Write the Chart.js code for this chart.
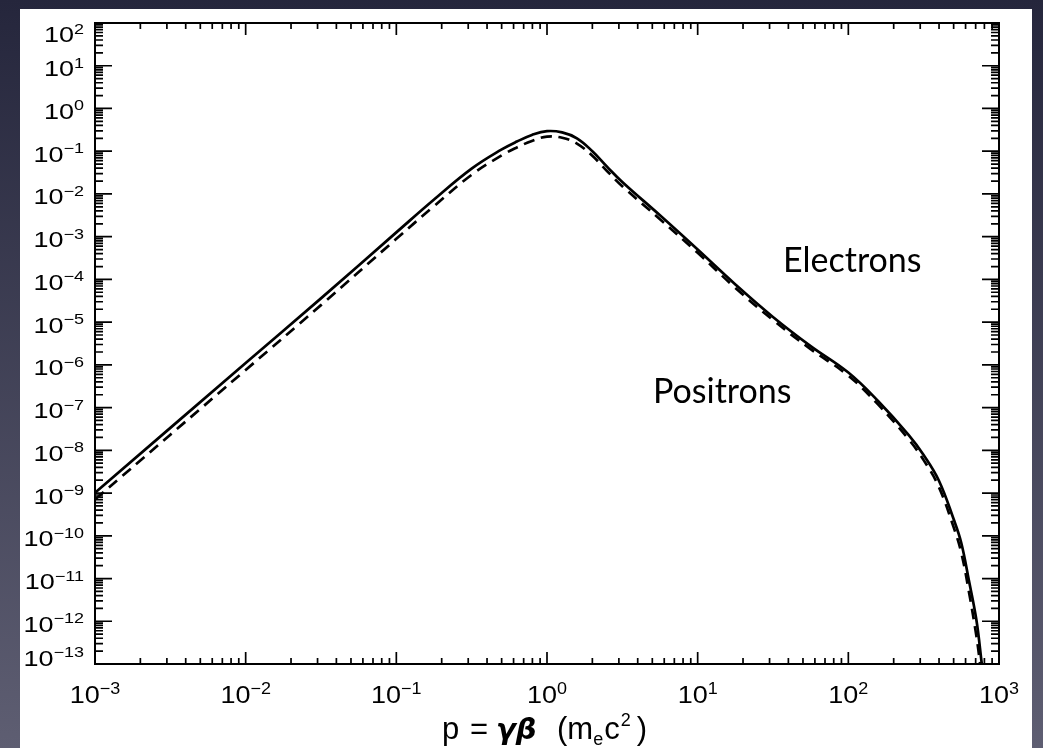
<!DOCTYPE html>
<html>
<head>
<meta charset="utf-8">
<script src="https://cdn.jsdelivr.net/npm/chart.js@4/dist/chart.umd.min.js"></script>
<style>
  html, body { margin: 0; padding: 0; background: #2a2b40; }
  canvas { display: block; }
</style>
</head>
<body>
<canvas id="spectrum" width="1043" height="748"></canvas>
<script>
// momentum p = gamma*beta (m_e c^2)
const momentumE = [0.001, 0.01, 0.0316, 0.1, 0.178, 0.316, 0.501, 0.631, 0.794, 1.0, 1.26, 1.58, 2.0, 2.51, 3.16,
  5.62, 10, 17.8, 31.6, 56.2, 100, 158, 251, 316, 398, 501, 562, 631, 708, 769];
const electrons = [1.02e-9, 1.10e-6, 3.6e-5, 1.26e-3, 7.4e-3, 3.9e-2, 0.110, 0.168, 0.24, 0.295, 0.275, 0.20, 0.10, 0.043, 0.019,
  3.16e-3, 5.0e-4, 7.6e-5, 1.32e-5, 2.75e-6, 6.6e-7, 1.41e-7, 2.3e-8, 7.8e-9, 2.0e-9, 2.4e-10, 6.8e-11, 9.1e-12, 1.07e-12, 1.0e-13];

const momentumP = [0.001, 0.01, 0.0316, 0.1, 0.178, 0.316, 0.501, 0.631, 0.794, 1.0, 1.26, 1.58, 2.0, 2.51, 3.16,
  5.62, 10, 17.8, 31.6, 56.2, 100, 158, 251, 316, 398, 501, 562, 631, 708, 750];
const positrons = [7.1e-10, 7.6e-7, 2.5e-5, 8.9e-4, 5.2e-3, 2.8e-2, 0.080, 0.122, 0.174, 0.219, 0.206, 0.151, 0.078, 0.034, 0.0151,
  2.57e-3, 4.2e-4, 6.3e-5, 1.12e-5, 2.34e-6, 5.6e-7, 1.17e-7, 1.82e-8, 5.9e-9, 1.41e-9, 1.55e-10, 4.0e-11, 5.0e-12, 4.5e-13, 1.0e-13];

const xDecades = [-3, -2, -1, 0, 1, 2, 3];
const yDecades = [2, 1, 0, -1, -2, -3, -4, -5, -6, -7, -8, -9, -10, -11, -12, -13];
const minorSteps = [2, 3, 4, 5, 6, 7, 8, 9];
const xTitle = ['p', '=', 'γβ', '(m', 'e', 'c', '2', ')'];
const labels = ['Electrons', 'Positrons'];

function toPoints(xs, ys) {
  return xs.map((x, i) => ({ x: x, y: ys[i] }));
}

function supText(n) {
  return String(n).replace('-', '\u2212');
}

// "10" with a raised exponent
function drawPower(ctx, exp, x, y, align, sy, expRaise) {
  const base = '10';
  const ex = supText(exp);
  ctx.font = '27px "Liberation Sans", Arial, sans-serif';
  const wb = ctx.measureText(base).width;
  ctx.font = '18px "Liberation Sans", Arial, sans-serif';
  const we = ctx.measureText(ex).width;
  const total = wb + we;
  let left = x;
  if (align === 'center') left = x - total / 2;
  if (align === 'right') left = x - total;
  ctx.save();
  ctx.translate(left, y);
  ctx.scale(1, sy);
  ctx.textAlign = 'left';
  ctx.textBaseline = 'alphabetic';
  ctx.font = '27px "Liberation Sans", Arial, sans-serif';
  ctx.fillText(base, 0, 0);
  ctx.font = '18px "Liberation Sans", Arial, sans-serif';
  ctx.fillText(ex, wb, -expRaise / sy);
  ctx.restore();
}

const frame = {
  id: 'frame',
  beforeDraw(chart) {
    const ctx = chart.ctx;
    const g = ctx.createLinearGradient(0, 0, 0, chart.height);
    g.addColorStop(0, '#25263c');
    g.addColorStop(1, '#5e5e72');
    ctx.save();
    ctx.fillStyle = g;
    ctx.fillRect(0, 0, chart.width, chart.height);
    ctx.fillStyle = '#ffffff';
    ctx.fillRect(20, 9, 1012, chart.height - 9);
    ctx.restore();
  },
  afterDraw(chart) {
    const ctx = chart.ctx;
    const a = chart.chartArea;
    const xs = chart.scales.x, ys = chart.scales.y;
    ctx.save();
    ctx.strokeStyle = '#000';
    ctx.fillStyle = '#000';
    ctx.lineWidth = 2;
    ctx.strokeRect(a.left, a.top, a.right - a.left, a.bottom - a.top);

    ctx.lineWidth = 1.7;
    ctx.beginPath();
    // x ticks, bottom and top
    xDecades.forEach(d => {
      const px = xs.getPixelForValue(Math.pow(10, d));
      ctx.moveTo(px, a.bottom); ctx.lineTo(px, a.bottom - 12);
      ctx.moveTo(px, a.top); ctx.lineTo(px, a.top + 12);
      if (d < 3) {
        minorSteps.forEach(m => {
          const mx = xs.getPixelForValue(m * Math.pow(10, d));
          ctx.moveTo(mx, a.bottom); ctx.lineTo(mx, a.bottom - 6);
          ctx.moveTo(mx, a.top); ctx.lineTo(mx, a.top + 6);
        });
      }
    });
    // y ticks, left and right
    yDecades.forEach(d => {
      const py = ys.getPixelForValue(Math.pow(10, d));
      ctx.moveTo(a.left, py); ctx.lineTo(a.left + 17, py);
      ctx.moveTo(a.right, py); ctx.lineTo(a.right - 17, py);
      if (d < 2) {
        minorSteps.forEach(m => {
          const my = ys.getPixelForValue(m * Math.pow(10, d));
          ctx.moveTo(a.left, my); ctx.lineTo(a.left + 8, my);
          ctx.moveTo(a.right, my); ctx.lineTo(a.right - 8, my);
        });
      }
    });
    ctx.stroke();

    // tick labels
    xDecades.forEach(d => {
      const px = xs.getPixelForValue(Math.pow(10, d));
      drawPower(ctx, d, px, a.bottom + 39, 'center', 0.92, 9);
    });
    yDecades.forEach(d => {
      const py = ys.getPixelForValue(Math.pow(10, d));
      let shift = 10.5;
      if (d === 2) shift = 19;
      if (d === -13) shift = 1.5;
      drawPower(ctx, d, a.left - 11, py + shift, 'right', 0.8, 8.5);
    });

    // axis title, laid out piece by piece
    ctx.textAlign = 'left';
    ctx.textBaseline = 'alphabetic';
    const ty = 739;
    const big = '31px "Liberation Sans", Arial, sans-serif';
    const small = '18px "Liberation Sans", Arial, sans-serif';
    ctx.font = big;
    ctx.fillText(xTitle[0], 442, ty);
    ctx.fillText(xTitle[1], 470, ty);
    ctx.font = 'bold italic 29px "DejaVu Sans", sans-serif';
    ctx.fillText(xTitle[2], 496, ty);
    let cx = 557;
    ctx.font = big;
    ctx.fillText(xTitle[3], cx, ty);
    cx += ctx.measureText(xTitle[3]).width;
    ctx.font = small;
    ctx.fillText(xTitle[4], cx, ty + 6);
    cx += ctx.measureText(xTitle[4]).width + 1;
    ctx.font = big;
    ctx.fillText(xTitle[5], cx, ty);
    cx += ctx.measureText(xTitle[5]).width + 1;
    ctx.font = small;
    ctx.fillText(xTitle[6], cx, ty - 13);
    cx += ctx.measureText(xTitle[6]).width + 6;
    ctx.font = big;
    ctx.fillText(xTitle[7], cx, ty);

    // curve labels
    ctx.font = '34px Lato, "Open Sans", sans-serif';
    ctx.fillText(labels[0], 783, 272);
    ctx.fillText(labels[1], 653, 403);
    ctx.restore();
  }
};

new Chart(document.getElementById('spectrum'), {
  type: 'line',
  data: {
    datasets: [
      {
        label: labels[0],
        data: toPoints(momentumE, electrons),
        borderColor: '#000',
        borderWidth: 2.7,
        pointRadius: 0,
        tension: 0.4,
        fill: false
      },
      {
        label: labels[1],
        data: toPoints(momentumP, positrons),
        borderColor: '#000',
        borderWidth: 2.7,
        borderDash: [11, 7],
        pointRadius: 0,
        tension: 0.4,
        fill: false
      }
    ]
  },
  options: {
    responsive: false,
    animation: false,
    devicePixelRatio: 1,
    layout: { padding: { left: 95, right: 44, top: 23, bottom: 84 } },
    plugins: { legend: { display: false }, tooltip: { enabled: false } },
    scales: {
      x: { type: 'logarithmic', min: 1e-3, max: 1e3, display: false },
      y: { type: 'logarithmic', min: 1e-13, max: 1e2, display: false }
    }
  },
  plugins: [frame]
});
</script>
</body>
</html>
